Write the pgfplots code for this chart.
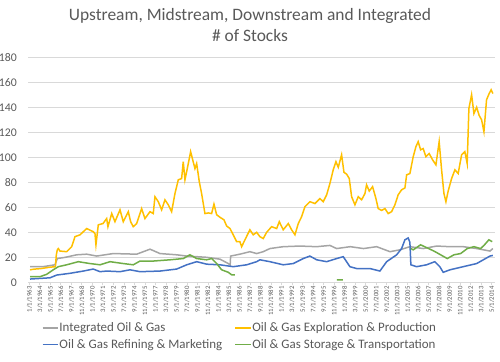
\documentclass[border=0pt]{standalone}
\usepackage{pgfplots}
\pgfplotsset{compat=1.18}
\usepackage{pgfplotstable}
\usepackage{fontspec}
\setmainfont{Carlito}
\definecolor{txtgray}{HTML}{595959}
\definecolor{gridgray}{HTML}{D9D9D9}
\definecolor{intgray}{HTML}{A5A5A5}
\definecolor{epyellow}{HTML}{FFC000}
\definecolor{rmblue}{HTML}{4472C4}
\definecolor{stgreen}{HTML}{70AD47}

% Integrated Oil & Gas
\pgfplotstableread{
x y
1963.08 12.5
1964.50 12.5
1965.85 14
1966.11 19
1967.00 20
1968.26 22
1969.37 22.5
1970.48 21
1972.32 23
1974.92 22.5
1976.40 26.5
1977.51 23
1979.36 22
1980.47 21
1982.69 20
1984.17 18.5
1985.09 15
1985.30 14
1985.35 21
1986.38 22.5
1987.49 24.5
1988.24 23
1988.97 24.5
1989.71 27
1991.19 28.5
1993.04 29
1994.90 28.5
1996.37 29.5
1997.12 27
1998.63 28.5
2000.10 27
2001.56 28.5
2003.04 24.5
2004.15 26
2005.25 28.5
2006.73 27
2008.22 29
2009.70 28.5
2011.17 28.5
2012.66 27
2014.14 25
2014.46 27
}\tabInt

% Oil & Gas Exploration & Production
\pgfplotstableread{
x y
1963.08 10
1963.50 10.5
1964.30 11
1965.20 12
1965.90 12.5
1966.00 22
1966.11 26
1966.22 27
1966.41 25
1967.15 24.5
1967.71 28.5
1968.07 36.5
1968.63 38
1969.37 43
1970.10 40.5
1970.29 39
1970.40 30
1970.66 46
1971.18 47
1971.59 51
1971.73 44.5
1972.15 55
1972.51 48.5
1973.07 58
1973.43 48.5
1973.99 56.5
1974.25 48.5
1974.54 44.5
1974.92 47
1975.47 59
1975.84 51
1976.40 56.5
1976.76 55
1976.95 68.5
1977.32 64.5
1977.69 58
1978.06 66
1978.43 62
1978.80 56.5
1979.17 71
1979.54 82
1979.91 83
1980.09 96.5
1980.28 82
1980.54 91
1980.91 104.5
1981.14 98
1981.39 91
1981.58 95
1981.87 80.5
1982.13 71
1982.50 55
1982.87 55.5
1983.24 55
1983.50 62.5
1983.80 54
1984.17 52
1984.61 50
1984.91 45
1985.28 43
1985.64 38
1986.02 32.5
1986.38 32.5
1986.57 28.5
1986.94 34
1987.49 42
1987.86 38
1988.24 40
1988.60 36.5
1988.97 35
1989.35 40
1989.90 44.5
1990.46 43
1990.75 48.5
1991.19 42
1991.75 47
1992.12 42
1992.49 38
1992.86 47
1993.23 52.5
1993.60 60.5
1994.15 64.5
1994.71 63
1995.26 67
1995.63 64.5
1996.01 70
1996.37 79
1996.74 90
1997.04 96.5
1997.30 92
1997.67 102
1997.93 88
1998.23 86.5
1998.52 83
1998.78 68.5
1999.15 62
1999.52 68.5
1999.89 66
2000.26 71
2000.44 78
2000.74 73
2001.11 76.5
2001.48 67
2001.73 59
2002.11 57.5
2002.48 59
2002.84 55
2003.22 56.5
2003.59 62
2003.95 70
2004.33 74
2004.70 75.5
2004.89 86
2005.25 87
2005.62 100.5
2005.92 108.5
2006.17 112.5
2006.44 106
2006.73 107
2007.03 100.5
2007.39 103
2007.77 98
2008.14 94
2008.50 112.5
2008.77 90
2009.03 71
2009.25 64.5
2009.50 73
2009.88 83
2010.25 90
2010.61 87
2010.99 102
2011.35 104.5
2011.61 95
2011.80 139
2012.10 150
2012.36 135
2012.66 140
2012.94 133.5
2013.21 130
2013.47 120.5
2013.76 146
2014.05 151
2014.27 154
2014.46 151
}\tabEP

% Oil & Gas Refining & Marketing
\pgfplotstableread{
x y
1963.08 2.6
1965.30 3.6
1966.04 5.8
1967.52 7.2
1969.00 9
1970.10 10.6
1970.85 8.5
1971.59 9
1973.07 8.5
1974.18 10
1975.29 8.5
1977.51 9
1979.36 10.6
1980.47 14
1981.58 16.5
1982.69 14.5
1984.17 14
1985.64 12.5
1987.13 14
1988.24 16.5
1988.60 18
1989.71 16.5
1991.19 14
1992.30 15
1993.41 19
1994.15 21
1994.90 18
1996.01 16.5
1997.12 19
1997.85 20.5
1998.59 12.5
1999.34 11
2000.81 11
2001.92 9
2002.67 16.5
2003.78 22
2004.33 27
2004.70 34
2005.06 35.5
2005.25 32
2005.36 14
2005.99 12.5
2007.10 14
2008.02 16.5
2008.57 12.5
2008.95 8
2009.70 10
2011.17 12.5
2012.66 15
2014.14 21
2014.46 21.5
}\tabRM

% Oil & Gas Storage & Transportation
\pgfplotstableread{
x y
1963.08 4.5
1964.19 4.5
1964.93 6.4
1965.66 10
1966.22 12.5
1967.15 14
1968.44 16.5
1969.74 15
1970.85 14
1971.96 16.5
1973.43 15
1974.54 14
1975.29 17
1976.76 17
1978.61 18
1980.09 19
1980.83 22
1981.58 19
1982.69 18
1983.24 19
1983.80 15
1984.35 10
1985.09 8
1985.46 6
1985.83 6
1990.00 nan
1997.15 2
1997.82 2
2000.00 nan
2005.36 27
2005.62 26
2006.44 30
2007.18 27.5
2007.92 25
2008.66 22
2009.40 19
2010.14 22
2010.88 23
2011.62 27
2012.36 28.5
2013.10 27
2013.47 29.5
2014.02 34
2014.39 32.5
}\tabST

\begin{document}
\begin{tikzpicture}[x=1bp,y=1bp]
\useasboundingbox (0,0) rectangle (500,361);
\node[txtgray, font=\fontsize{17.5}{20}\selectfont, anchor=base] at (250,340.3) {Upstream, Midstream, Downstream and Integrated};
\node[txtgray, font=\fontsize{17.5}{20}\selectfont, anchor=base] at (250,320) {\# of Stocks};
\begin{axis}[
  at={(28bp,78.7bp)}, anchor=south west,
  scale only axis, width=467bp, height=225bp,
  xmin=1962.856, xmax=2014.70, ymin=0, ymax=180,
  axis x line*=bottom, axis y line*=left,
  x axis line style={draw=gridgray, line width=0.75bp},
  y axis line style={draw=none},
  ytick={0,20,...,180},
  ymajorgrids, grid style={gridgray, line width=0.75bp},
  ytick style={draw=none},
  xtick style={draw=gridgray, line width=0.75bp},
  tick align=outside, major tick length=3bp,
  xtick={1963,1964.1667,1965.3333,1966.5,1967.6667,1968.8333,
         1970,1971.1667,1972.3333,1973.5,1974.6667,1975.8333,
         1977,1978.1667,1979.3333,1980.5,1981.6667,1982.8333,
         1984,1985.1667,1986.3333,1987.5,1988.6667,1989.8333,
         1991,1992.1667,1993.3333,1994.5,1995.6667,1996.8333,
         1998,1999.1667,2000.3333,2001.5,2002.6667,2003.8333,
         2005,2006.1667,2007.3333,2008.5,2009.6667,2010.8333,
         2012,2013.1667,2014.3333},
  xticklabels={1/1/1963,3/1/1964,5/1/1965,7/1/1966,9/1/1967,11/1/1968,
         1/1/1970,3/1/1971,5/1/1972,7/1/1973,9/1/1974,11/1/1975,
         1/1/1977,3/1/1978,5/1/1979,7/1/1980,9/1/1981,11/1/1982,
         1/1/1984,3/1/1985,5/1/1986,7/1/1987,9/1/1988,11/1/1989,
         1/1/1991,3/1/1992,5/1/1993,7/1/1994,9/1/1995,11/1/1996,
         1/1/1998,3/1/1999,5/1/2000,7/1/2001,9/1/2002,11/1/2003,
         1/1/2005,3/1/2006,5/1/2007,7/1/2008,9/1/2009,11/1/2010,
         1/1/2012,3/1/2013,5/1/2014},
  xticklabel style={rotate=90, anchor=east, font=\fontsize{6.8}{7}\selectfont, text=txtgray, inner sep=1bp},
  yticklabel style={font=\fontsize{11.8}{13}\selectfont, text=txtgray, anchor=east, inner sep=0bp, xshift=-8bp},
  /pgf/number format/assume math mode=true,
  unbounded coords=jump,
  legend columns=2,
  legend cell align=left,
  legend style={draw=none, fill=none, inner sep=0bp,
    at={(0.0293,-0.166)}, anchor=north west,
    font=\fontsize{13}{15}\selectfont, text=txtgray,
    nodes={inner xsep=0.5bp, inner ysep=3bp},
    /tikz/every even column/.append style={column sep=12bp}},
  legend image code/.code={\draw[#1, line width=1.5bp] plot coordinates {(0bp,0bp) (7.8bp,0bp) (15.6bp,0bp)};},
  every axis plot/.append style={line width=1.5bp, mark=none},
]
\addplot[intgray] table[x=x,y=y] {\tabInt};
\addlegendentry{Integrated Oil \& Gas}
\addplot[epyellow] table[x=x,y=y] {\tabEP};
\addlegendentry{Oil \& Gas Exploration \& Production}
\addplot[rmblue] table[x=x,y=y] {\tabRM};
\addlegendentry{Oil \& Gas Refining \& Marketing}
\addplot[stgreen] table[x=x,y=y] {\tabST};
\addlegendentry{Oil \& Gas Storage \& Transportation}
\end{axis}
\end{tikzpicture}
\end{document}
